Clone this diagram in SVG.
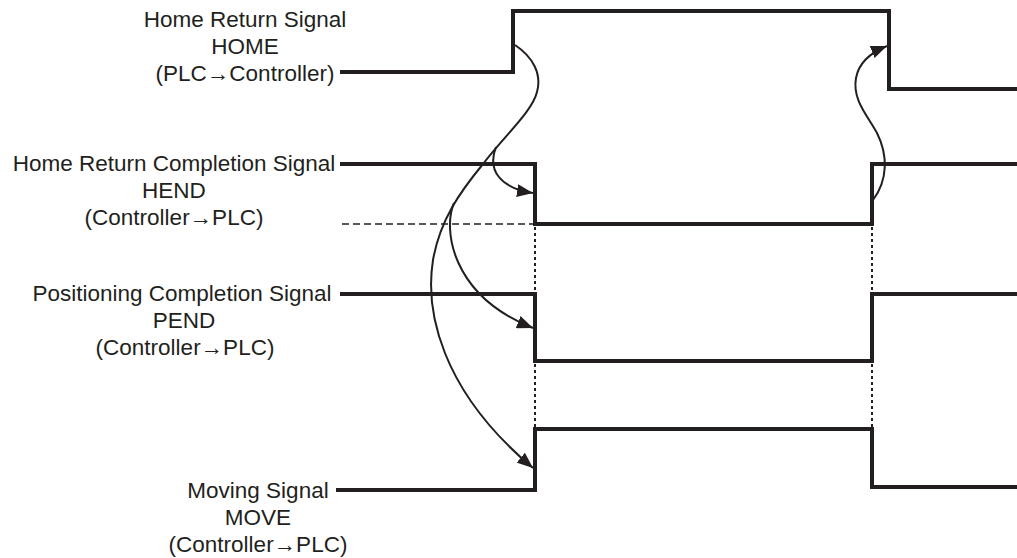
<svg xmlns="http://www.w3.org/2000/svg" width="1017" height="558" viewBox="0 0 1017 558">
<style>
.lbl{font-family:"Liberation Sans",Arial,sans-serif;font-size:22.5px;fill:#231f20;text-anchor:middle}
.sig{fill:none;stroke:#231f20;stroke-width:4;stroke-linejoin:miter}
.dot{fill:none;stroke:#231f20;stroke-width:2;stroke-dasharray:3 3}
.dash{fill:none;stroke:#231f20;stroke-width:1.5;stroke-dasharray:7 4}
.cur{fill:none;stroke:#231f20;stroke-width:2}
</style>
<defs>
<marker id="ah" markerUnits="userSpaceOnUse" markerWidth="17" markerHeight="13" refX="16" refY="6.5" orient="auto">
<path d="M0,0 L16,6.5 L0,13 z" fill="#231f20"/>
</marker>
</defs>
<rect width="1017" height="558" fill="#ffffff"/>
<g id="home">
<text class="lbl" x="245" y="27">Home Return Signal</text>
<text class="lbl" x="245" y="54">HOME</text>
<text class="lbl" x="245" y="81">(PLC→Controller)</text>
<path class="sig" d="M340,72 H513 V11 H889 V89 H1017"/>
</g>
<g id="hend">
<text class="lbl" x="174" y="171">Home Return Completion Signal</text>
<text class="lbl" x="174" y="198">HEND</text>
<text class="lbl" x="174" y="225">(Controller→PLC)</text>
<path class="sig" d="M340,164 H535 V224 H872 V164 H1017"/>
<path class="dash" d="M342,224 H533"/>
</g>
<g id="pend">
<text class="lbl" x="182" y="301">Positioning Completion Signal</text>
<text class="lbl" x="184" y="328">PEND</text>
<text class="lbl" x="185" y="355">(Controller→PLC)</text>
<path class="sig" d="M340,294 H535 V361 H872 V294 H1017"/>
</g>
<g id="move">
<text class="lbl" x="258" y="498">Moving Signal</text>
<text class="lbl" x="258" y="525">MOVE</text>
<text class="lbl" x="258" y="552">(Controller→PLC)</text>
<path class="sig" d="M336,490 H535 V429 H872 V487 H1017"/>
</g>
<g id="connectors">
<path class="dot" d="M535,227 V292 M535,364 V427 M872,227 V292 M872,364 V427"/>
<path class="cur" d="M515,45 C533,57 542,74 537,92 C532,112 505,135 483,164 C460,192 440,220 433,260 C425,310 440,390 533,468" marker-end="url(#ah)"/>
<path class="cur" d="M496,147 C487,170 500,188 533,193" marker-end="url(#ah)"/>
<path class="cur" d="M454,203 C443,228 450,295 533,328" marker-end="url(#ah)"/>
<path class="cur" d="M873,200 C888,180 888,155 877,133 C868,116 852,100 856,78 C859,62 872,52 887,46" marker-end="url(#ah)"/>
</g>
</svg>
